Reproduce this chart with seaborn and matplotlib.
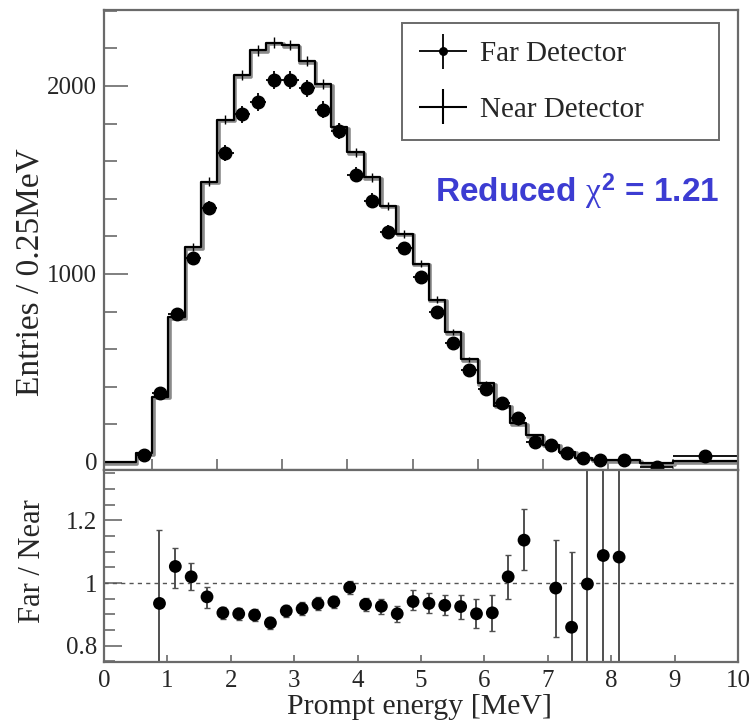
import numpy as np
import pandas as pd
import matplotlib
matplotlib.use("Agg")
import matplotlib.pyplot as plt
import matplotlib.transforms as mtransforms
from matplotlib.container import ErrorbarContainer
from matplotlib.legend_handler import HandlerErrorbar
from matplotlib.ticker import MultipleLocator
import seaborn as sns

# ---------------- data ----------------
# Near detector histogram (bin edges and contents)
near_edges = [0.25, 0.5, 0.75, 1.0, 1.25, 1.5, 1.75, 2.0, 2.25, 2.5, 2.75, 3.0,
              3.25, 3.5, 3.75, 4.0, 4.25, 4.5, 4.75, 5.0, 5.25, 5.5, 5.75, 6.0,
              6.25, 6.5, 6.75, 7.0, 7.25, 7.5, 7.75, 8.0, 8.5, 9.0, 10.0]
near_vals = [0, 0, 46, 347, 771, 1142, 1491, 1820, 2057, 2189, 2230, 2218,
             2133, 2009, 1779, 1646, 1514, 1363, 1213, 1054, 863, 691, 546, 420,
             300, 205, 143, 92, 54, 22, 12, 9, -6, 3]
near_err = [0, 0, 6, 12, 17, 20, 23, 25, 27, 28, 28, 28,
            27, 26, 25, 24, 23, 22, 20, 19, 17, 15, 14, 12,
            10, 9, 7, 6, 5, 3, 3, 2, 2, 1]

# Far detector points
far_energy = [0.875, 1.125, 1.375, 1.625, 1.875, 2.125, 2.375, 2.625, 2.875,
              3.125, 3.375, 3.625, 3.875, 4.125, 4.375, 4.625, 4.875, 5.125,
              5.375, 5.625, 5.875, 6.125, 6.375, 6.625, 6.875, 7.125, 7.375,
              7.625, 7.875, 8.25, 8.75, 9.5]
far_vals = [37, 364, 789, 1084, 1349, 1643, 1850, 1915, 2032,
            2031, 1988, 1873, 1761, 1528, 1390, 1225, 1137, 983,
            799, 635, 488, 386, 315, 232, 108, 90, 46,
            20, 11, 11, -25, 30]
far_err = [12, 22, 30, 35, 38, 42, 45, 46, 47,
           47, 46, 45, 44, 41, 39, 37, 35, 33,
           30, 27, 24, 21, 19, 17, 13, 12, 10,
           9, 8, 6, 6, 5]
far_halfwidth = [0.125] * 29 + [0.25, 0.25, 0.5]

# Far / Near ratio
ratio_energy = [0.875, 1.125, 1.375, 1.625, 1.875, 2.125, 2.375, 2.625, 2.875,
                3.125, 3.375, 3.625, 3.875, 4.125, 4.375, 4.625, 4.875, 5.125,
                5.375, 5.625, 5.875, 6.125, 6.375, 6.625, 7.125, 7.375, 7.625,
                7.875, 8.125]
ratio_vals = [0.935, 1.053, 1.020, 0.956, 0.905, 0.902, 0.898, 0.873, 0.911,
              0.918, 0.934, 0.940, 0.986, 0.932, 0.926, 0.902, 0.941, 0.935,
              0.929, 0.925, 0.902, 0.905, 1.020, 1.137, 0.984, 0.859, 0.997,
              1.088, 1.083]
ratio_err_up = [0.236, 0.060, 0.044, 0.030, 0.020, 0.020, 0.020, 0.020, 0.020,
                0.020, 0.020, 0.020, 0.020, 0.020, 0.024, 0.025, 0.036, 0.032,
                0.032, 0.037, 0.046, 0.057, 0.071, 0.098, 0.153, 0.240, 1.0,
                1.0, 1.0]
ratio_err_dn = [0.300, 0.069, 0.043, 0.034, 0.020, 0.020, 0.020, 0.020, 0.020,
                0.020, 0.020, 0.020, 0.020, 0.020, 0.024, 0.025, 0.028, 0.030,
                0.030, 0.041, 0.045, 0.057, 0.072, 0.095, 0.156, 0.300, 1.0,
                1.0, 1.0]

x_ticks = [0, 1, 2, 3, 4, 5, 6, 7, 8, 9, 10]
top_yticks = [0, 1000, 2000]
ratio_yticks = [0.8, 1.0, 1.2]
ratio_yticklabels = ["0.8", "1", "1.2"]

# ---------------- style ----------------
sns.set_theme(style="ticks")
plt.rcParams["font.family"] = ["Liberation Serif", "DejaVu Serif"]
plt.rcParams["axes.linewidth"] = 1.6
plt.rcParams["axes.edgecolor"] = "#6a6a6a"
plt.rcParams["mathtext.fontset"] = "custom"
plt.rcParams["mathtext.rm"] = "Liberation Sans:bold"
plt.rcParams["mathtext.bf"] = "Liberation Sans:bold"
plt.rcParams["mathtext.it"] = "Liberation Serif"

W, H = 751, 723
fig = plt.figure(figsize=(W / 100, H / 100), dpi=100)
fig.patch.set_facecolor("white")

L, R = 104 / W, 738 / W
ax = fig.add_axes([L, 1 - 470 / H, R - L, (470 - 10) / H])
axr = fig.add_axes([L, 1 - 662 / H, R - L, (662 - 470) / H])

# ---------------- top panel ----------------
near_df = pd.DataFrame({"E": near_edges, "N": near_vals + [near_vals[-1]]})
shadow = mtransforms.offset_copy(ax.transData, fig=fig, x=1.6, y=-1.6, units="dots")
sns.lineplot(data=near_df, x="E", y="N", ax=ax, drawstyle="steps-post",
             color="#8a8a8a", lw=2.6, transform=shadow, legend=False)
sns.lineplot(data=near_df, x="E", y="N", ax=ax, drawstyle="steps-post",
             color="black", lw=1.6, legend=False)

edges = np.array(near_edges)
near_centers = 0.5 * (edges[:-1] + edges[1:])
ax.errorbar(near_centers, near_vals, yerr=near_err, fmt="none",
            ecolor="black", elinewidth=1.0, capsize=0)

far_cont = ax.errorbar(far_energy, far_vals, yerr=far_err, xerr=far_halfwidth,
                       fmt="o", color="black", ms=9, elinewidth=1.3, capsize=0)

# legend proxies
near_proxy = ax.errorbar([], [], xerr=[], yerr=[], fmt="none", ecolor="black",
                         elinewidth=1.5)
leg = ax.legend([far_cont, near_proxy], ["Far Detector", "Near Detector"],
                handler_map={ErrorbarContainer: HandlerErrorbar(xerr_size=0.82, yerr_size=0.6)},
                loc="upper left", bbox_to_anchor=(0.4696, 0.971, 0.5004, 0.0),
                mode="expand", fontsize=21, frameon=True, fancybox=False,
                edgecolor="#6a6a6a", framealpha=1, borderpad=0.6,
                labelspacing=1.0, handlelength=1.65, handletextpad=0.45,
                borderaxespad=0, markerscale=0.6)
leg.get_frame().set_linewidth(1.4)

ax.text(0.522, 0.604, r"Reduced $\chi^{2}$ = 1.21", transform=ax.transAxes,
        ha="left", va="center", fontsize=24, fontweight="bold",
        color="#3c3cd2", family=["Liberation Sans", "DejaVu Sans"])

ax.set_xlim(0.26, 10.0)
ax.set_ylim(-43, 2404)
ax.set_xticks(x_ticks[1:-1])
ax.set_xticklabels([])
ax.set_yticks(top_yticks)
ax.set_yticklabels([str(v) for v in top_yticks], fontsize=18)
ax.yaxis.set_minor_locator(MultipleLocator(200))
ax.tick_params(axis="y", which="major", direction="in", length=17, width=1.2,
               color="#6a6a6a", pad=5)
ax.tick_params(axis="y", which="minor", direction="in", length=9.5, width=1.2,
               color="#6a6a6a")
ax.tick_params(axis="x", which="major", direction="in", length=8, width=1.2,
               color="#6a6a6a")
ax.set_xlabel("")
ax.set_ylabel("Entries / 0.25MeV", fontsize=24)
ax.yaxis.set_label_coords(-0.093, 0.43)

# ---------------- ratio panel ----------------
ratio_df = pd.DataFrame({"E": ratio_energy, "R": ratio_vals})
axr.axhline(1.0, color="#555555", lw=1.0, ls=(0, (3, 3)))
axr.errorbar(ratio_energy, ratio_vals, yerr=[ratio_err_dn, ratio_err_up],
             fmt="none", ecolor="#505050", elinewidth=1.4, capsize=2.5,
             capthick=1.0)
sns.scatterplot(data=ratio_df, x="E", y="R", ax=axr, color="black", s=85,
                edgecolor="none", zorder=5, legend=False)

axr.set_xlim(0, 10)
axr.set_ylim(0.748, 1.361)
axr.set_xticks(x_ticks)
axr.set_xticklabels([str(v) for v in x_ticks], fontsize=18)
axr.set_yticks(ratio_yticks)
axr.set_yticklabels(ratio_yticklabels, fontsize=18)
axr.yaxis.set_minor_locator(MultipleLocator(0.05))
axr.tick_params(axis="y", which="major", direction="in", length=13, width=1.2,
                color="#6a6a6a", pad=5)
axr.tick_params(axis="y", which="minor", direction="in", length=8, width=1.2,
                color="#6a6a6a")
axr.tick_params(axis="x", which="major", direction="in", length=5, width=1.2,
                color="#6a6a6a", pad=6)
axr.set_xlabel("Prompt energy [MeV]", fontsize=21.5)
axr.xaxis.set_label_coords(0.498, -0.165)
axr.set_ylabel("Far / Near", fontsize=22)
axr.yaxis.set_label_coords(-0.09, 0.526)

for a in (ax, axr):
    for s in a.spines.values():
        s.set_visible(True)
        s.set_color("#6a6a6a")

fig.savefig("out.png", dpi=100, facecolor="white")
